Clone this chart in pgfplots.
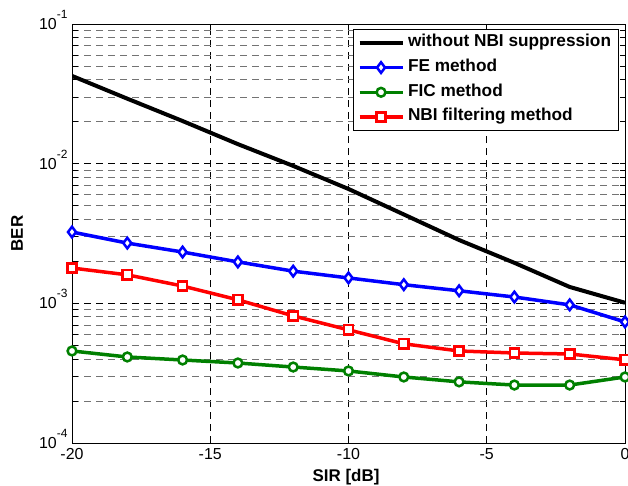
\documentclass[border=0pt]{standalone}
\usepackage{fontspec}
\setmainfont{Liberation Sans}
\usepackage{pgfplots}
\pgfplotsset{compat=1.18}

\definecolor{mgreen}{RGB}{0,128,0}
\newcommand{\pw}[1]{10\smash{\raisebox{11bp}{\fontsize{12}{12}\selectfont #1}}}

\begin{document}
\begin{tikzpicture}
\path[use as bounding box] (0,0) rectangle (628bp,486bp);
\begin{axis}[
  at={(72bp,43bp)}, anchor=south west,
  width=553bp, height=419bp, scale only axis,
  xmin=-20, xmax=0, ymin=1e-4, ymax=1e-1, ymode=log,
  xtick={-20,-15,-10,-5,0},
  xticklabels={-20,-15,-10,-5,0},
  ytick={1e-4,1e-3,1e-2,1e-1},
  yticklabels={\pw{-4},\pw{-3},\pw{-2},\pw{-1}},
  tick label style={font=\fontsize{16}{18}\selectfont},
  xticklabel style={yshift=-2bp},
  yticklabel style={xshift=-1bp},
  tick align=inside,
  major tick length=5.5bp, minor tick length=5.5bp,
  every tick/.style={black, line width=0.8bp},
  axis line style={line width=1bp},
  xmajorgrids, ymajorgrids, yminorgrids,
  major grid style={black, line width=0.8bp, dash pattern=on 7bp off 5bp},
  minor grid style={black!55, line width=0.8bp, dash pattern=on 7bp off 5bp},
  xlabel={\bfseries SIR [dB]},
  ylabel={\bfseries BER},
  label style={font=\fontsize{17}{19}\selectfont},
  xlabel style={at={(axis description cs:0.4955,-0.0811)}, anchor=center},
  ylabel style={at={(axis description cs:-0.0995,0.5)}, anchor=center},
  legend cell align=left,
  legend style={
    at={(axis description cs:0.9892,0.988)}, anchor=north east,
    font=\fontsize{17.3}{19}\selectfont\bfseries,
    draw=black, line width=1bp, inner xsep=4bp, inner ysep=1bp,
    nodes={inner ysep=4.35bp, inner xsep=3.5bp, text height=12bp, text depth=4bp},
  },
  legend image code/.code={%
    \draw[mark repeat=2, mark phase=2, #1]
      plot coordinates {(0bp,0bp) (21.5bp,0bp) (43bp,0bp)};},
]
% no suppression
\addplot[black, line width=4bp] coordinates {
  (-20,0.0425) (-18,0.0292) (-16,0.0202) (-14,0.0138) (-12,0.00964)
  (-10,0.00659) (-8,0.00433) (-6,0.00284) (-4,0.00195) (-2,0.00131) (0,0.00101)};
\addlegendentry{without NBI suppression}
% frequency-domain estimation
\addplot[blue, line width=3.5bp, mark=diamond*, mark size=5.3bp,
  mark options={fill=white, line width=2.5bp, solid}] coordinates {
  (-20,0.00324) (-18,0.0027) (-16,0.00233) (-14,0.00198) (-12,0.0017)
  (-10,0.00152) (-8,0.00136) (-6,0.00123) (-4,0.00111) (-2,0.000975) (0,0.000736)};
\addlegendentry{FE method}
% FIC
\addplot[mgreen, line width=3.5bp, mark=*, mark size=4.4bp,
  mark options={fill=white, line width=2.5bp, solid}] coordinates {
  (-20,0.000456) (-18,0.000413) (-16,0.000393) (-14,0.000374) (-12,0.00035)
  (-10,0.000328) (-8,0.000297) (-6,0.000274) (-4,0.00026) (-2,0.00026) (0,0.000297)};
\addlegendentry{FIC method}
% filtering
\addplot[red, line width=3.5bp, mark=square*, mark size=4.6bp,
  mark options={fill=white, line width=2.5bp, solid}] coordinates {
  (-20,0.00179) (-18,0.0016) (-16,0.00133) (-14,0.00106) (-12,0.000813)
  (-10,0.000646) (-8,0.000513) (-6,0.000456) (-4,0.000441) (-2,0.000434) (0,0.000394)};
\addlegendentry{NBI filtering method}
\end{axis}
\end{tikzpicture}
\end{document}
